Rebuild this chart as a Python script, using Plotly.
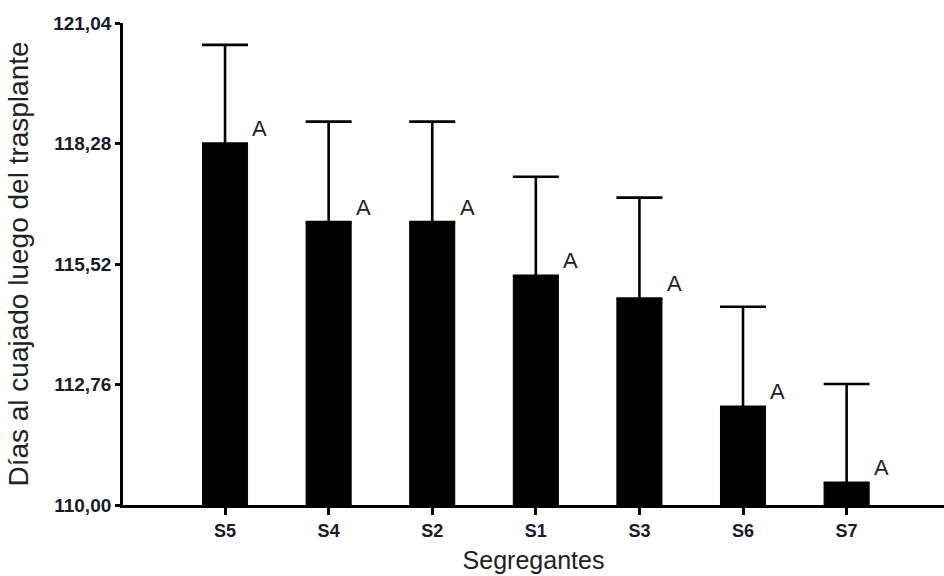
import plotly.graph_objects as go

categories = ["S5", "S4", "S2", "S1", "S3", "S6", "S7"]
means = [118.28, 116.48, 116.48, 115.25, 114.73, 112.25, 110.51]
upper = [120.54, 118.78, 118.78, 117.52, 117.04, 114.54, 112.77]
letters = ["A", "A", "A", "A", "A", "A", "A"]
y_ticks = [110.00, 112.76, 115.52, 118.28, 121.04]
y_tick_labels = ["110,00", "112,76", "115,52", "118,28", "121,04"]

err_plus = [u - m for u, m in zip(upper, means)]
xpos = list(range(len(categories)))

fig = go.Figure()
fig.add_trace(go.Bar(
    x=xpos, y=[m - 110 for m in means], base=110,
    width=0.435,
    marker=dict(color="black", line=dict(color="black", width=1)),
    error_y=dict(type="data", symmetric=False, array=err_plus,
                 arrayminus=[0] * len(means), thickness=2.6, width=23, color="black"),
    showlegend=False,
))

for i, (m, lab) in enumerate(zip(means, letters)):
    fig.add_annotation(x=i + 0.245, y=m, text=lab, showarrow=False,
                       xanchor="left", yanchor="middle", yshift=15,
                       font=dict(family="Liberation Sans, Arial", size=22, color="#222222"))

fig.update_layout(
    width=944, height=576,
    margin=dict(l=123, r=0, t=23, b=71),
    plot_bgcolor="white", paper_bgcolor="white",
    bargap=0.5,
)
fig.update_xaxes(
    range=[-0.985, 6.94],
    tickmode="array", tickvals=xpos, ticktext=categories,
    ticks="outside", ticklen=7, tickwidth=2.5, tickcolor="black",
    showline=True, linecolor="black", linewidth=2.8,
    showgrid=False, zeroline=False,
    tickfont=dict(family="Liberation Sans, Arial", size=18, color="#1a1a2a", weight="bold"),
    title=dict(text="Segregantes", standoff=12,
               font=dict(family="Liberation Sans, Arial", size=25, color="#222222")),
)
fig.update_yaxes(
    range=[110, 121.04],
    tickmode="array", tickvals=y_ticks, ticktext=y_tick_labels,
    ticks="outside", ticklen=5, tickwidth=2.5, tickcolor="black",
    showline=True, linecolor="black", linewidth=2.8,
    showgrid=False, zeroline=False,
    tickfont=dict(family="Liberation Sans, Arial", size=19, color="#1a1a2a", weight="bold"),
    title=dict(text="Días al cuajado luego del trasplante", standoff=17,
               font=dict(family="Liberation Sans, Arial", size=28, color="#222222")),
)

fig.write_html("out.html")
